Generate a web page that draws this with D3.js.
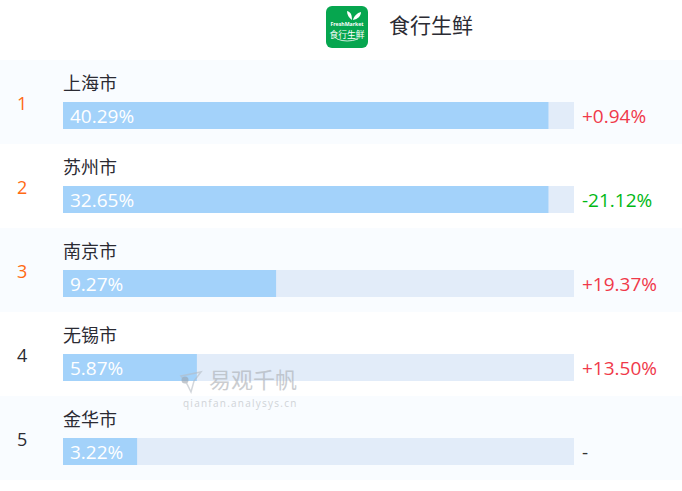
<!DOCTYPE html>
<html>
<head>
<meta charset="utf-8">
<script src="https://d3js.org/d3.v7.min.js"></script>
<title>食行生鲜</title>
<style>
    html, body { margin: 0; padding: 0; background: #fff; }
    svg { display: block; }
    text { font-family: "Open Sans", "Noto Sans CJK SC", sans-serif; }
    .cjk { font-family: "Noto Sans CJK SC", sans-serif; }
</style>
</head>
<body>
<script>
    // Data
    var ranks = [1, 2, 3, 4, 5];
    var cities = ["上海市", "苏州市", "南京市", "无锡市", "金华市"];
    var shareLabels = ["40.29%", "32.65%", "9.27%", "5.87%", "3.22%"];
    // drawn bar length, in % of the track (not the same as the label in the source)
    var barLengths = [95, 95, 41.7, 26.2, 14.5];
    var changes = ["+0.94%", "-21.12%", "+19.37%", "+13.50%", "-"];

    var width = 682;
    var height = 491;

    var svg = d3.select("body").append("svg")
        .attr("width", width)
        .attr("height", height);

    // Scales
    var rowScale = d3.scaleBand()
        .domain(ranks)
        .range([60, 480]);

    var xScale = d3.scaleLinear()
        .domain([0, 100])
        .range([63, 574]);

    function changeColor(c) {
        if (c.charAt(0) === "+") return "#f0394a";
        if (c === "-") return "#333";
        return "#00b814";
    }

    function rankColor(r) {
        return r <= 3 ? "#ff6a13" : "#2b2b33";
    }

    // Rows
    var rows = svg.selectAll("g.row")
        .data(ranks)
        .enter()
        .append("g")
        .attr("class", "row")
        .attr("transform", function (d) {
            return "translate(0," + rowScale(d) + ")";
        });

    rows.append("rect")
        .attr("x", 0)
        .attr("y", 0)
        .attr("width", width)
        .attr("height", rowScale.bandwidth())
        .attr("fill", function (d, i) {
            return i % 2 === 0 ? "#f9fcff" : "#fff";
        });

    rows.append("text")
        .attr("x", 17)
        .attr("y", 50)
        .attr("font-size", 18)
        .attr("fill", function (d) { return rankColor(d); })
        .text(function (d) { return d; });

    rows.append("text")
        .attr("class", "cjk")
        .attr("x", 63)
        .attr("y", 29.5)
        .attr("font-size", 18)
        .attr("fill", "#2b2b33")
        .text(function (d, i) { return cities[i]; });

    // Track
    rows.append("rect")
        .attr("x", xScale(0))
        .attr("y", 42)
        .attr("width", xScale(100) - xScale(0))
        .attr("height", 27)
        .attr("fill", "#e2ecf9");

    // Filled part
    rows.append("rect")
        .attr("x", xScale(0))
        .attr("y", 42)
        .attr("width", function (d, i) { return xScale(barLengths[i]) - xScale(0); })
        .attr("height", 27)
        .attr("fill", "#a3d2fa");

    rows.append("text")
        .attr("x", 70)
        .attr("y", 63)
        .attr("font-size", 19)
        .attr("fill", "#fff")
        .text(function (d, i) { return shareLabels[i]; });

    rows.append("text")
        .attr("x", 582)
        .attr("y", 63)
        .attr("font-size", 19)
        .attr("fill", function (d, i) { return changeColor(changes[i]); })
        .text(function (d, i) { return changes[i]; });

    // Header: logo + name
    var logo = svg.append("g").attr("transform", "translate(326,6)");

    logo.append("rect")
        .attr("width", 42)
        .attr("height", 42)
        .attr("rx", 6)
        .attr("fill", "#06a64f");

    logo.append("path")
        .attr("d", "M21 5 C25 6 26 9 26 14 C23 12 21 9 21 5 Z M27 14 C28 10 31 7 35 6 C35 10 32 13 27 14 Z")
        .attr("fill", "#fff");

    logo.append("text")
        .attr("x", 21)
        .attr("y", 19.5)
        .attr("text-anchor", "middle")
        .attr("font-size", 5.2)
        .attr("font-weight", "bold")
        .attr("fill", "#fff")
        .text("FreshMarket");

    logo.append("text")
        .attr("class", "cjk")
        .attr("x", 21)
        .attr("y", 31.5)
        .attr("text-anchor", "middle")
        .attr("font-size", 8.8)
        .attr("fill", "#fff")
        .text("食行生鲜");

    logo.append("path")
        .attr("d", "M11 33 Q21 37 32 33")
        .attr("fill", "none")
        .attr("stroke", "#fff")
        .attr("stroke-width", 0.8);

    svg.append("text")
        .attr("class", "cjk")
        .attr("x", 389)
        .attr("y", 33)
        .attr("font-size", 21)
        .attr("fill", "#2b2b33")
        .text("食行生鲜");

    // Watermark
    var mark = svg.append("g").attr("opacity", 0.6);

    mark.append("path")
        .attr("d", "M181 376 L201 372 L194 381 L191 392 L187 384 Z")
        .attr("fill", "none")
        .attr("stroke", "#b5bcc4")
        .attr("stroke-width", 1.5);

    mark.append("circle")
        .attr("cx", 185)
        .attr("cy", 380)
        .attr("r", 3.5)
        .attr("fill", "#9aa3ad");

    mark.append("text")
        .attr("class", "cjk")
        .attr("x", 209)
        .attr("y", 388)
        .attr("font-size", 22)
        .attr("fill", "#a9adb2")
        .text("易观千帆");

    mark.append("text")
        .attr("x", 183)
        .attr("y", 407)
        .attr("font-size", 10)
        .attr("letter-spacing", 1.25)
        .attr("fill", "#b5b9bd")
        .text("qianfan.analysys.cn");
</script>
</body>
</html>
